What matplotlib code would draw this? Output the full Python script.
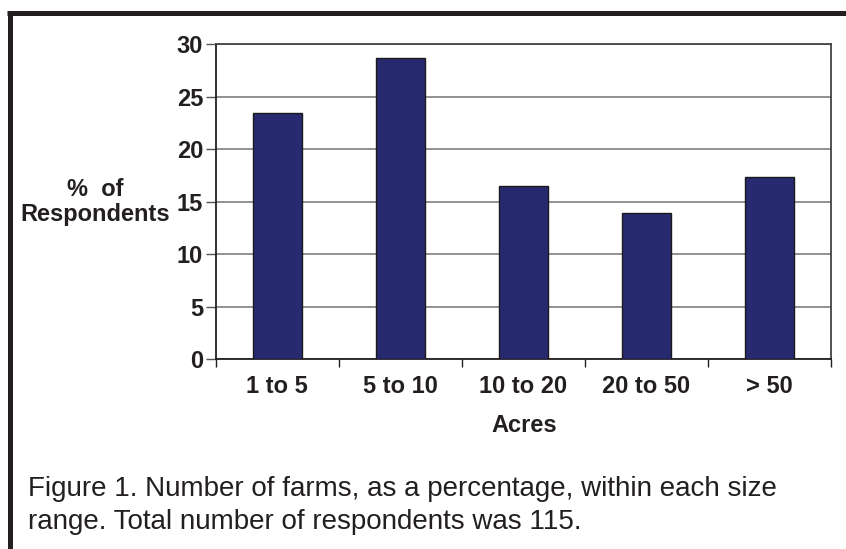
import matplotlib
matplotlib.use("Agg")
import matplotlib.pyplot as plt
from matplotlib.lines import Line2D
import numpy as np

categories = ["1 to 5", "5 to 10", "10 to 20", "20 to 50", "> 50"]
values = [23.5, 28.7, 16.5, 13.9, 17.4]
yticks = [0, 5, 10, 15, 20, 25, 30]

plt.rcParams['font.family'] = ['Liberation Sans', 'DejaVu Sans']

W, H = 846, 549
fig = plt.figure(figsize=(W / 100, H / 100), dpi=100)
fig.patch.set_facecolor('white')

# frame lines (top and left)
border = '#231f20'
fig.add_artist(Line2D([7 / W, 1.0], [1 - 13 / H, 1 - 13 / H], color=border, lw=3.6,
                      transform=fig.transFigure, solid_capstyle='butt'))
fig.add_artist(Line2D([9.5 / W, 9.5 / W], [1 - 11 / H, 0.0], color=border, lw=3.6,
                      transform=fig.transFigure, solid_capstyle='butt'))

left, right, top, bottom = 215.7, 831, 44.3, 359.3
ax = fig.add_axes([left / W, 1 - bottom / H, (right - left) / W, (bottom - top) / H])

x = np.arange(len(categories))
ax.bar(x, values, width=0.4, color='#282a70', edgecolor='#1a1a1a', linewidth=1.0, zorder=3)

ax.set_xlim(-0.5, len(categories) - 0.5)
ax.set_ylim(0, 30)
ax.set_yticks(yticks)
ax.set_yticklabels([str(t) for t in yticks], fontsize=17, fontweight='bold', color='#231f20')
ax.yaxis.grid(True, color='#888888', linewidth=1.3, zorder=0)
ax.set_axisbelow(True)

ax.set_xticks(np.arange(-0.5, len(categories), 1.0))
ax.set_xticklabels([])
ax.set_xticks(x, minor=True)
ax.set_xticklabels(categories, minor=True, fontsize=17, fontweight='bold', color='#231f20')
ax.tick_params(axis='x', which='major', length=6, width=1, direction='out', color='#231f20')
ax.tick_params(axis='x', which='minor', length=0, pad=11)
ax.tick_params(axis='y', length=7, width=1, direction='out', pad=2, color='#555555')

for s in ['left', 'bottom']:
    ax.spines[s].set_color('#231f20')
    ax.spines[s].set_linewidth(1.3)
for s in ['top', 'right']:
    ax.spines[s].set_color('#444444')
    ax.spines[s].set_linewidth(1.3)

fig.text(95 / W, 1 - 202 / H, "%  of\nRespondents", ha='center', va='center',
         fontsize=17, fontweight='bold', color='#231f20', linespacing=1.1)
fig.text(524 / W, 1 - 425 / H, "Acres", ha='center', va='center',
         fontsize=17, fontweight='bold', color='#231f20')

fig.text(28 / W, 1 - 489 / H, "Figure 1. Number of farms, as a percentage, within each size",
         ha='left', va='center', fontsize=20, color='#231f20')
fig.text(28 / W, 1 - 522 / H, "range. Total number of respondents was 115.",
         ha='left', va='center', fontsize=20, color='#231f20')

fig.savefig("out.png", dpi=100, facecolor='white')
